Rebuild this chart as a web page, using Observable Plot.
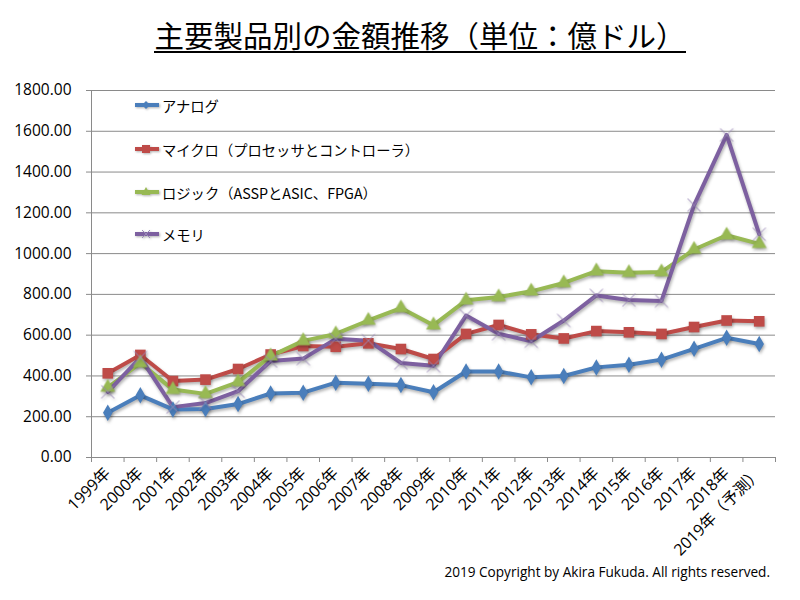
<!DOCTYPE html>
<html><head><meta charset="utf-8">
<script src="https://cdn.jsdelivr.net/npm/d3@7"></script>
<script src="https://cdn.jsdelivr.net/npm/@observablehq/plot@0.6"></script>
<style>
body{margin:0;background:#fff;}
#wrap{position:relative;width:800px;height:600px;overflow:hidden;background:#fff;}
#title{position:absolute;left:20px;width:800px;top:20px;text-align:center;font-family:"Noto Sans CJK JP";font-size:29.5px;line-height:29px;color:#000;}
#title span{border-bottom:2px solid #000;padding-bottom:2px;display:inline-block;}
#legend{position:absolute;left:134px;top:0;font-family:"Noto Sans CJK JP";font-size:14.3px;color:#000;}
.li{position:absolute;white-space:nowrap;display:flex;align-items:center;height:20px;}
.li svg{margin-right:2px;}
#copy{position:absolute;right:30px;top:562px;font-family:"Open Sans";font-size:13.6px;color:#000;white-space:nowrap;}
#chart{position:absolute;left:0;top:0;}
</style></head>
<body><div id="wrap"><div id="chart"></div><div id="title"><span>主要製品別の金額推移（単位：億ドル）</span></div><div id="legend"></div><div id="copy">2019 Copyright by Akira Fukuda. All rights reserved.</div></div>
<script>
const years = ["1999年","2000年","2001年","2002年","2003年","2004年","2005年","2006年","2007年","2008年","2009年","2010年","2011年","2012年","2013年","2014年","2015年","2016年","2017年","2018年","2019年（予測）"];
const seriesNames = ["アナログ","マイクロ（プロセッサとコントローラ）","ロジック（ASSPとASIC、FPGA）","メモリ"];
const analog = [220, 305, 236, 238, 262, 314, 318, 367, 362, 355, 320, 422, 422, 393, 400, 442, 455, 480, 533, 587, 557];
const micro  = [413, 503, 375, 382, 434, 505, 547, 543, 560, 532, 483, 606, 650, 604, 584, 620, 614, 606, 640, 672, 668];
const logic  = [343, 464, 333, 312, 370, 497, 572, 606, 672, 733, 649, 771, 787, 815, 856, 914, 906, 910, 1020, 1090, 1048];
const memory = [322, 490, 247, 267, 325, 473, 485, 582, 573, 464, 450, 696, 607, 570, 672, 795, 772, 768, 1238, 1582, 1095];
const yTicks = [0, 200, 400, 600, 800, 1000, 1200, 1400, 1600, 1800];
const colors = ["#4A7EBB", "#BE4B48", "#98B954", "#7D60A0"];
const symbols = ["diamond", "square", "triangle", "times"];

const allSeries = [analog, micro, logic, memory];
const data = [];
allSeries.forEach((vals, s) => vals.forEach((v, i) => data.push({i, year: years[i], value: v, series: seriesNames[s]})));

const font = "'Open Sans','Noto Sans CJK JP',sans-serif";
const plot = Plot.plot({
  width: 800, height: 600,
  marginTop: 90, marginBottom: 143, marginLeft: 91, marginRight: 25,
  style: {fontFamily: font, background: "transparent", color: "#000", overflow: "visible"},
  x: {type: "linear", domain: [0, years.length]},
  y: {domain: [0, 1800]},
  color: {domain: seriesNames, range: colors},
  marks: [
    Plot.gridY(yTicks, {stroke: "#8a8a8a", strokeOpacity: 1, strokeWidth: 1}),
    Plot.ruleX([0], {stroke: "#8a8a8a", insetBottom: -5}),
    Plot.axisY({ticks: yTicks, tickSize: 5, tickPadding: 15, tickFormat: d3.format(".2f"), fontSize: 15.5, label: null, stroke: "#8a8a8a", fill: "#000"}),
    Plot.axisX({ticks: d3.range(0, years.length + 1), tickSize: 5, tickFormat: () => "", label: null, stroke: "#8a8a8a"}),
    Plot.axisX({ticks: years.map((d, i) => i + 0.5), tickFormat: v => years[Math.floor(v)], tickSize: 0, tickPadding: 13, tickRotate: -45, fontSize: 16, label: null, fill: "#000"}),
    Plot.line(data, {x: d => d.i + 0.5, y: "value", z: "series", stroke: "series", strokeWidth: 4, strokeLinejoin: "round"}),
    Plot.dot(data.filter(d => d.series === seriesNames[0]), {x: d => d.i + 0.5, y: "value", symbol: "diamond", r: 5, fill: colors[0]}),
    Plot.dot(data.filter(d => d.series === seriesNames[1]), {x: d => d.i + 0.5, y: "value", symbol: "square", r: 6, fill: colors[1]}),
    Plot.dot(data.filter(d => d.series === seriesNames[2]), {x: d => d.i + 0.5, y: "value", symbol: "triangle", r: 5.5, fill: colors[2]}),
    Plot.dot(data.filter(d => d.series === seriesNames[3]), {x: d => d.i + 0.5, y: "value", symbol: "times", r: 6, stroke: "#9a88b8", strokeWidth: 1})
  ]
});
document.getElementById("chart").appendChild(plot);
plot.querySelectorAll('g[aria-label="line"], g[aria-label="dot"]').forEach(g => g.style.filter = "drop-shadow(1px 2px 1.5px rgba(0,0,0,0.3))");

// legend
const legendY = [105, 149, 192, 234];
const sym = {
  diamond: c => `<path d="M12,6 L16,10 L12,14 L8,10Z" fill="${c}"/>`,
  square: c => `<rect x="8" y="6" width="8" height="8" fill="${c}"/>`,
  triangle: c => `<path d="M12,5 L16.5,13 L7.5,13Z" fill="${c}"/>`,
  times: c => `<path d="M8,6 L16,14 M16,6 L8,14" stroke="#9a88b8" stroke-width="1"/>`
};
const leg = document.getElementById("legend");
seriesNames.forEach((name, s) => {
  const el = document.createElement("div");
  el.className = "li";
  el.style.top = (legendY[s] - 10) + "px";
  el.innerHTML = `<svg width="26" height="20" style="filter:drop-shadow(1px 1px 1px rgba(0,0,0,0.3))"><line x1="1" x2="25" y1="10" y2="10" stroke="${colors[s]}" stroke-width="4"/>${sym[symbols[s]](colors[s])}</svg><span>${name}</span>`;
  leg.appendChild(el);
});
</script></body></html>
